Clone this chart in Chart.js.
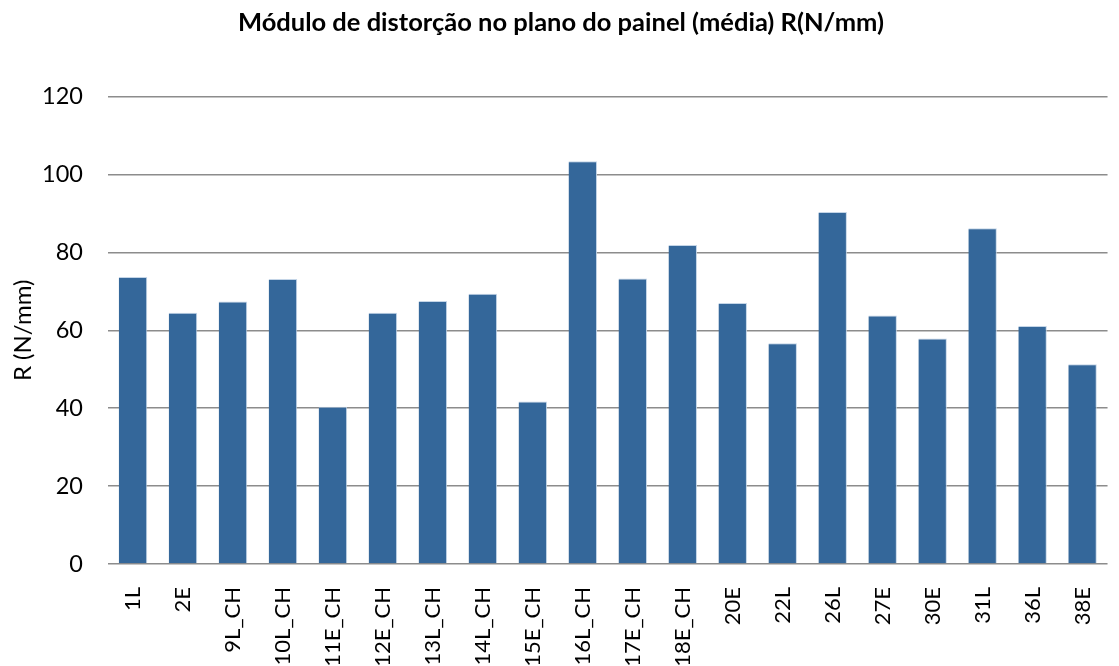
<!DOCTYPE html>
<html>
<head>
<meta charset="utf-8">
<script src="https://cdn.jsdelivr.net/npm/chart.js@4"></script>
<style>
    html, body { margin: 0; padding: 0; background: #fff; overflow: hidden; }
    #wrap { width: 1124px; height: 666px; }
</style>
</head>
<body>
<div id="wrap"><canvas id="distChart" width="1124" height="666"></canvas></div>
<script>
const categories = ["1L", "2E", "9L_CH", "10L_CH", "11E_CH", "12E_CH", "13L_CH", "14L_CH", "15E_CH", "16L_CH",
    "17E_CH", "18E_CH", "20E", "22L", "26L", "27E", "30E", "31L", "36L", "38E"]
const rValues = [73.7, 64.5, 67.4, 73.2, 40.4, 64.5, 67.5, 69.4, 41.7, 103.4,
    73.3, 81.9, 67.0, 56.7, 90.4, 63.8, 57.9, 86.2, 61.1, 51.3]
const yTicks = [0, 20, 40, 60, 80, 100, 120]

const titleText = "Módulo de distorção no plano do painel (média) R(N/mm)"
const yAxisTitle = "R (N/mm)"

const ctx = document.getElementById("distChart").getContext("2d")

const config = {
    type: "bar",
    data: {
        labels: categories,
        datasets: [{
            label: "R",
            data: rValues,
            backgroundColor: "#34679a",
            borderColor: "rgba(190, 208, 228, 0.9)",
            borderWidth: { top: 1, right: 1, left: 0, bottom: 0 },
            barPercentage: 0.57,
            categoryPercentage: 1.0
        }]
    },
    options: {
        responsive: false,
        animation: false,
        layout: { padding: { left: 0, right: 2, top: 0, bottom: 0 } },
        plugins: {
            legend: { display: false },
            tooltip: { enabled: false },
            title: {
                display: true,
                text: titleText,
                color: "#000",
                font: { family: "Lato", size: 25.5, weight: "bold" },
                padding: { top: 7, bottom: 59 }
            }
        },
        scales: {
            x: {
                grid: { display: false },
                border: { display: false },
                ticks: {
                    color: "#000",
                    font: { family: "Lato", size: 22 },
                    minRotation: 90,
                    maxRotation: 90,
                    autoSkip: false,
                    padding: 15
                },
                afterFit: (scale) => { scale.height = 102 }
            },
            y: {
                min: 0,
                max: 120,
                afterBuildTicks: (scale) => { scale.ticks = yTicks.map(v => ({ value: v })) },
                grid: { color: "#8c8c8c", lineWidth: 1.5, drawTicks: false },
                border: { display: false },
                ticks: {
                    color: "#000",
                    font: { family: "Lato", size: 23.5 },
                    padding: 25
                },
                title: {
                    display: true,
                    text: yAxisTitle,
                    color: "#000",
                    font: { family: "Lato", size: 24 },
                    padding: { top: 9, bottom: 0 }
                },
                afterFit: (scale) => { scale.width = 108 }
            }
        }
    }
}

new Chart(ctx, config)
</script>
</body>
</html>
